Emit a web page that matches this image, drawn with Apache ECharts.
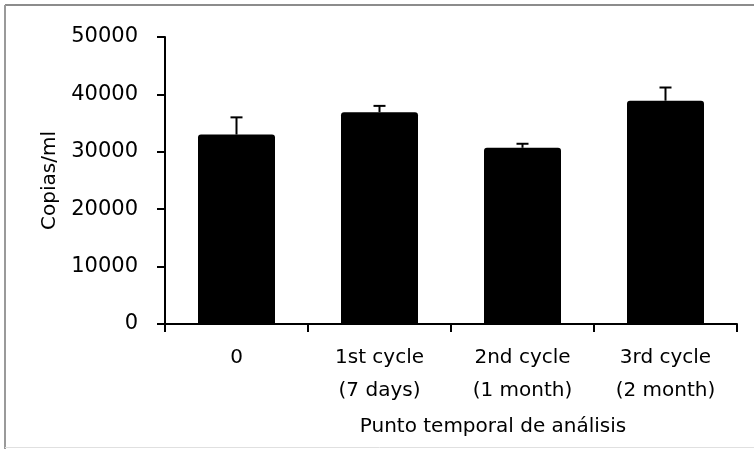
<!DOCTYPE html>
<html>
<head>
<meta charset="utf-8">
<script src="https://cdn.jsdelivr.net/npm/echarts@6/dist/echarts.min.js"></script>
<style>
html,body{margin:0;padding:0;background:#fff;}
#chart{width:754px;height:449px;}
</style>
</head>
<body>
<div id="chart"></div>
<script>
const categories = ['0', '1st cycle\n(7 days)', '2nd cycle\n(1 month)', '3rd cycle\n(2 month)'];
const means = [33000, 36900, 30700, 38900];
const errors = [3000, 1100, 700, 2300];
const yTicks = [0, 10000, 20000, 30000, 40000, 50000];

const FONT = 'DejaVu Sans';
const chart = echarts.init(document.getElementById('chart'), null, {renderer: 'canvas'});

const errData = means.map((m, i) => [i, m, m + errors[i]]);

chart.setOption({
  animation: false,
  backgroundColor: '#fff',
  textStyle: {fontFamily: FONT, color: '#000'},
  grid: {left: 165, right: 17, top: 37, bottom: 125},
  graphic: [
    {type: 'line', shape: {x1: 5, y1: 5, x2: 754, y2: 5}, style: {stroke: '#8c8c8c', lineWidth: 2}},
    {type: 'line', shape: {x1: 5, y1: 5, x2: 5, y2: 449}, style: {stroke: '#9a9a9a', lineWidth: 2}},
    {type: 'line', shape: {x1: 5, y1: 447.5, x2: 754, y2: 447.5}, style: {stroke: '#e0e0e0', lineWidth: 1}}
  ],
  xAxis: {
    type: 'category',
    data: categories,
    boundaryGap: true,
    axisLine: {lineStyle: {color: '#000', width: 2}},
    axisTick: {show: true, length: 8, lineStyle: {color: '#000', width: 2}},
    axisLabel: {fontFamily: FONT, fontSize: 20, color: '#000', lineHeight: 33, margin: 17},
    name: 'Punto temporal de análisis',
    nameLocation: 'middle',
    nameGap: 93,
    nameTextStyle: {fontFamily: FONT, fontSize: 20, color: '#000', padding: [0, 0, 0, 84]}
  },
  yAxis: {
    type: 'value',
    min: yTicks[0],
    max: yTicks[yTicks.length - 1],
    interval: yTicks[1] - yTicks[0],
    splitLine: {show: false},
    axisLine: {show: true, lineStyle: {color: '#000', width: 2}},
    axisTick: {show: true, length: 8, lineStyle: {color: '#000', width: 2}},
    axisLabel: {fontFamily: FONT, fontSize: 21, color: '#000', margin: 27, formatter: function (v) { return String(v); }},
    name: 'Copias/ml',
    nameLocation: 'middle',
    nameGap: 105,
    nameTextStyle: {fontFamily: FONT, fontSize: 20, color: '#000'}
  },
  series: [
    {
      type: 'bar',
      data: means,
      barWidth: 77,
      itemStyle: {color: '#000', borderRadius: [3, 3, 0, 0]},
      z: 2
    },
    {
      type: 'custom',
      data: errData,
      z: 3,
      renderItem: function (params, api) {
        const x = api.value(0);
        const p0 = api.coord([x, api.value(1)]);
        const p1 = api.coord([x, api.value(2)]);
        const half = 6;
        return {
          type: 'group',
          children: [
            {type: 'line', shape: {x1: p0[0], y1: p0[1], x2: p1[0], y2: p1[1]}, style: {stroke: '#000', lineWidth: 2}},
            {type: 'line', shape: {x1: p1[0] - half, y1: p1[1], x2: p1[0] + half, y2: p1[1]}, style: {stroke: '#000', lineWidth: 2}}
          ]
        };
      }
    }
  ]
});
</script>
</body>
</html>
